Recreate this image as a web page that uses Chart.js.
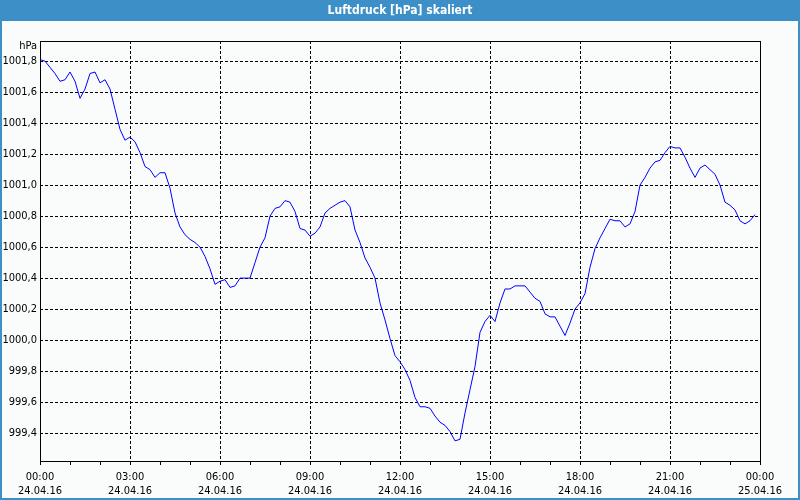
<!DOCTYPE html>
<html>
<head>
<meta charset="utf-8">
<script src="https://cdn.jsdelivr.net/npm/chart.js@4"></script>
<style>
  html, body { margin: 0; padding: 0; background: #ffffff; }
  #wrap { width: 800px; height: 500px; }
</style>
</head>
<body>
<div id="wrap"><canvas id="chart" width="800" height="500"></canvas></div>
<script>
// chart texts
const chartTitle = 'Luftdruck [hPa] skaliert';
const unitLabel = 'hPa';

// one reading every 10 minutes, 24.04.16 00:00 .. 23:50
const stepMinutes = 10;
const pressure = [
  1001.81, 1001.80, 1001.76, 1001.72, 1001.67, 1001.68, 1001.73, 1001.67, 1001.56, 1001.62,
  1001.72, 1001.73, 1001.66, 1001.68, 1001.62, 1001.49, 1001.36, 1001.29, 1001.31, 1001.28,
  1001.21, 1001.12, 1001.10, 1001.05, 1001.08, 1001.08, 1000.98, 1000.82, 1000.73, 1000.68,
  1000.65, 1000.63, 1000.60, 1000.54, 1000.46, 1000.36, 1000.38, 1000.39, 1000.34, 1000.35,
  1000.40, 1000.40, 1000.40, 1000.50, 1000.60, 1000.66, 1000.80, 1000.85, 1000.86, 1000.90,
  1000.89, 1000.83, 1000.72, 1000.71, 1000.67, 1000.69, 1000.73, 1000.82, 1000.85, 1000.87,
  1000.89, 1000.90, 1000.86, 1000.71, 1000.63, 1000.53, 1000.47, 1000.40, 1000.24, 1000.13,
  1000.01, 999.90, 999.86, 999.81, 999.74, 999.63, 999.57, 999.57, 999.56, 999.51,
  999.47, 999.45, 999.41, 999.35, 999.36, 999.53, 999.68, 999.83, 1000.05, 1000.12,
  1000.16, 1000.12, 1000.24, 1000.33, 1000.33, 1000.35, 1000.35, 1000.35, 1000.31, 1000.27,
  1000.25, 1000.17, 1000.15, 1000.15, 1000.09, 1000.03, 1000.11, 1000.20, 1000.24, 1000.30,
  1000.47, 1000.59, 1000.66, 1000.72, 1000.78, 1000.77, 1000.77, 1000.73, 1000.75, 1000.83,
  1001.00, 1001.05, 1001.11, 1001.15, 1001.16, 1001.21, 1001.25, 1001.24, 1001.24, 1001.18,
  1001.11, 1001.05, 1001.11, 1001.13, 1001.10, 1001.07, 1001.00, 1000.89, 1000.87, 1000.84,
  1000.77, 1000.75, 1000.77, 1000.81
];

// axes
const yMin = 999.22;
const yMax = 1001.93;
const yTicks = [999.4, 999.6, 999.8, 1000.0, 1000.2, 1000.4, 1000.6, 1000.8, 1001.0, 1001.2, 1001.4, 1001.6, 1001.8];
const xTickTimes = ['00:00', '03:00', '06:00', '09:00', '12:00', '15:00', '18:00', '21:00', '00:00'];
const xTickDates = ['24.04.16', '24.04.16', '24.04.16', '24.04.16', '24.04.16', '24.04.16', '24.04.16', '24.04.16', '25.04.16'];
const labelEvery = 180; // minutes
const minorEvery = 60;
const xMax = 1440;

const fontFamily = "'DejaVu Sans Condensed', 'Liberation Sans', sans-serif";
const barColor = '#3c8fc7';
const bgColor = '#fafcfc';

const points = pressure.map((v, i) => ({ x: i * stepMinutes, y: v }));

const framePlugin = {
  id: 'frame',
  beforeDraw(chart) {
    const ctx = chart.ctx;
    ctx.save();
    ctx.fillStyle = bgColor;
    ctx.fillRect(0, 0, chart.width, chart.height);
    ctx.fillStyle = barColor;
    ctx.fillRect(0, 0, chart.width, 21);
    ctx.strokeStyle = barColor;
    ctx.lineWidth = 2;
    ctx.strokeRect(1, 1, chart.width - 2, chart.height - 2);
    ctx.fillStyle = '#ffffff';
    ctx.font = 'bold 12px ' + fontFamily;
    ctx.textAlign = 'center';
    ctx.textBaseline = 'middle';
    ctx.fillText(chartTitle, chart.width / 2, 11);
    ctx.restore();
  },
  beforeDatasetsDraw(chart) {
    const ctx = chart.ctx;
    const a = chart.chartArea;
    ctx.save();
    ctx.strokeStyle = '#000000';
    ctx.lineWidth = 1;
    ctx.strokeRect(Math.round(a.left) + 0.5, Math.round(a.top) + 0.5,
      Math.round(a.right - a.left), Math.round(a.bottom - a.top));
    ctx.fillStyle = '#000000';
    ctx.font = '11px ' + fontFamily;
    ctx.textAlign = 'right';
    ctx.textBaseline = 'middle';
    ctx.fillText(unitLabel, a.left - 3, a.top + 5);
    ctx.restore();
  }
};

new Chart(document.getElementById('chart'), {
  type: 'line',
  data: {
    datasets: [{
      data: points,
      borderColor: '#0000ff',
      borderWidth: 1,
      pointRadius: 0,
      tension: 0,
      fill: false
    }]
  },
  options: {
    responsive: false,
    animation: false,
    devicePixelRatio: 1,
    layout: { padding: { top: 41, right: 40, bottom: 0, left: 0 } },
    plugins: {
      legend: { display: false },
      tooltip: { enabled: false },
      title: { display: false }
    },
    scales: {
      x: {
        type: 'linear',
        min: 0,
        max: xMax,
        border: { display: false, dash: [3, 2] },
        grid: {
          color: c => (c.tick && c.tick.value % labelEvery === 0 && c.tick.value > 0 && c.tick.value < xMax) ? '#000000' : 'rgba(0,0,0,0)',
          tickColor: '#000000',
          tickLength: 4,
          lineWidth: 1
        },
        ticks: {
          stepSize: minorEvery,
          autoSkip: false,
          maxRotation: 0,
          padding: 5,
          color: '#000000',
          font: { family: fontFamily, size: 11, lineHeight: 1.3 },
          callback: v => v % labelEvery === 0 ? [xTickTimes[v / labelEvery], xTickDates[v / labelEvery]] : ''
        },
        afterFit: s => { s.height = 39; }
      },
      y: {
        min: yMin,
        max: yMax,
        border: { display: false, dash: [3, 2] },
        grid: { color: '#000000', drawTicks: false, lineWidth: 1 },
        afterBuildTicks: s => { s.ticks = yTicks.map(v => ({ value: v })); },
        ticks: {
          padding: 3,
          color: '#000000',
          font: { family: fontFamily, size: 11 },
          callback: v => v.toFixed(1).replace('.', ',')
        },
        afterFit: s => { s.width = 40; }
      }
    }
  },
  plugins: [framePlugin]
});
</script>
</body>
</html>
